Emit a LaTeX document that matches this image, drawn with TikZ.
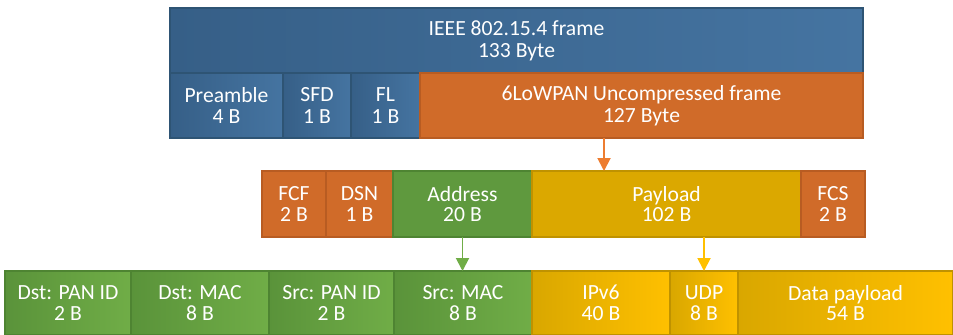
\documentclass[tikz,border=0pt]{standalone}
\usepackage{fontspec}
\setmainfont{Carlito}
\usetikzlibrary{arrows.meta, positioning, calc}
\definecolor{blueA}{HTML}{365F87}
\definecolor{blueB}{HTML}{4574A1}
\definecolor{blueline}{HTML}{2E5474}
\definecolor{orangefill}{HTML}{D06B29}
\definecolor{orangeline}{HTML}{B85C22}
\definecolor{orangearrow}{HTML}{ED7D31}
\definecolor{greenfill}{HTML}{5F993E}
\definecolor{greenA}{HTML}{5A933A}
\definecolor{greenB}{HTML}{70AD47}
\definecolor{greenline}{HTML}{4E8432}
\definecolor{yellowfill}{HTML}{DBA800}
\definecolor{yellowA}{HTML}{D9A700}
\definecolor{yellowB}{HTML}{FFC000}
\definecolor{yellowline}{HTML}{BF9200}
\tikzset{
  field/.style={rectangle, draw, line width=0.6pt, inner sep=0pt, outer sep=0pt,
    text=white, align=center, minimum height=1.3cm, font=\fontsize{12.3}{12.5}\selectfont},
  fieldBlue/.style={field, draw=blueline, left color=blueA, right color=blueB},
  fieldOrange/.style={field, draw=orangeline, fill=orangefill},
  fieldGreen/.style={field, draw=greenline, fill=greenfill},
  fieldGreenS/.style={field, draw=greenline, left color=greenA, right color=greenB},
  fieldYellow/.style={field, draw=yellowline, fill=yellowfill},
  fieldYellowS/.style={field, draw=yellowline, left color=yellowA, right color=yellowB},
  rowtwo/.style={minimum height=1.32cm, font=\fontsize{12.3}{11.6}\selectfont},
  rowthree/.style={minimum height=1.28cm, font=\fontsize{12.3}{11.8}\selectfont},
  arr/.style={-{Triangle[length=2.6mm, width=2.6mm]}, line width=1.1pt},
}

\begin{document}
\begin{tikzpicture}[node distance=0pt]
\useasboundingbox (0,0) rectangle (19.06,-6.7);
% IEEE 802.15.4 frame
\node[fieldBlue, anchor=north west, minimum width=13.86cm] (ieee) at (3.4,-0.16) {IEEE 802.15.4 frame\\133 Byte};
\node[fieldBlue, anchor=north west, minimum width=2.26cm] (pre) at (3.4,-1.46) {Preamble\\4 B};
\node[fieldBlue, right=of pre, minimum width=1.36cm] (sfd) {SFD\\1 B};
\node[fieldBlue, right=of sfd, minimum width=1.38cm] (fl) {FL\\1 B};
\node[fieldOrange, right=of fl, minimum width=8.86cm] (lowpan) {6LoWPAN Uncompressed frame\\127 Byte};

% 6LoWPAN frame
\node[fieldOrange, rowtwo, anchor=north west, minimum width=1.28cm] (fcf) at (5.24,-3.42) {FCF\\2 B};
\node[fieldOrange, rowtwo, right=of fcf, minimum width=1.34cm] (dsn) {DSN\\1 B};
\node[fieldGreen, rowtwo, right=of dsn, minimum width=2.78cm] (addr) {Address\\20 B};
\node[fieldYellow, rowtwo, right=of addr, minimum width=5.38cm] (payload) {Payload\\102 B};
\node[fieldOrange, rowtwo, right=of payload, minimum width=1.28cm] (fcs) {FCS\\2 B};

% address and payload fields
\node[fieldGreenS, rowthree, anchor=north west, minimum width=2.52cm] (dstpan) at (0.1,-5.42) {Dst: PAN ID\\2 B};
\node[fieldGreenS, rowthree, right=of dstpan, minimum width=2.76cm] (dstmac) {Dst: MAC\\8 B};
\node[fieldGreenS, rowthree, right=of dstmac, minimum width=2.5cm] (srcpan) {Src: PAN ID\\2 B};
\node[fieldGreenS, rowthree, right=of srcpan, minimum width=2.76cm] (srcmac) {Src: MAC\\8 B};
\node[fieldYellowS, rowthree, right=of srcmac, minimum width=2.76cm] (ipv6) {IPv6\\40 B};
\node[fieldYellowS, rowthree, right=of ipv6, minimum width=1.36cm] (udp) {UDP\\8 B};
\node[fieldYellowS, rowthree, right=of udp, minimum width=4.3cm] (data) {Data payload\\54 B};

\coordinate (drop) at (12.08,0);
\draw[arr, orangearrow] (drop |- lowpan.south) -- (drop |- payload.north);
\draw[arr, greenB] (addr.south) -- (addr.south |- srcmac.north);
\draw[arr, yellowB] (udp.north |- payload.south) -- (udp.north);
\end{tikzpicture}
\end{document}
